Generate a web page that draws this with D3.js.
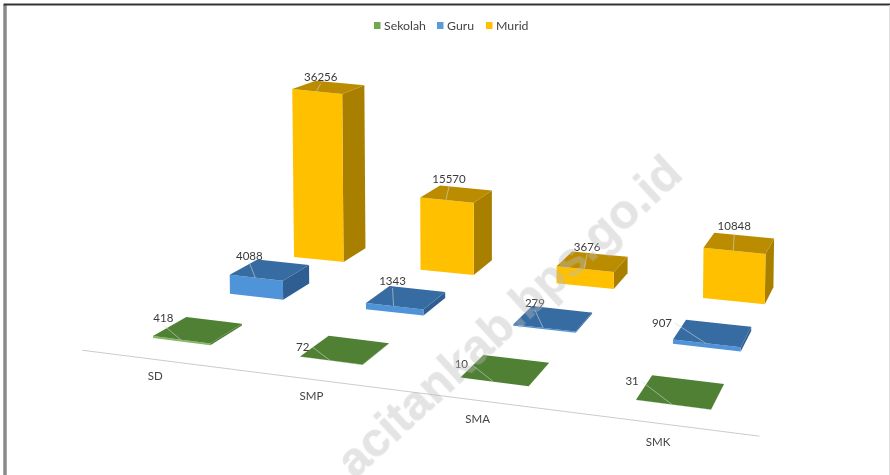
<!DOCTYPE html>
<html><head><meta charset="utf-8">
<script src="https://cdn.jsdelivr.net/npm/d3@7/dist/d3.min.js"></script>
<style>html,body{margin:0;padding:0;background:#fff}svg{display:block}</style>
</head><body><svg id="c" width="890" height="475"></svg>
<script>
const categories = ["SD","SMP","SMA","SMK"];
const series = ["Sekolah","Guru","Murid"];
const sekolah = [418,72,10,31];
const guru = [4088,1343,279,907];
const murid = [36256,15570,3676,10848];
const seriesValues = [sekolah,guru,murid];
const faceColors = [
  {front:"#86b765",top:"#4f8034",side:"#4a7a30",key:"#70a84f"},
  {front:"#4f93d8",top:"#376ca3",side:"#2f5f92",key:"#5b9bd5"},
  {front:"#ffc000",top:"#bc8c00",side:"#a97f00",key:"#ffc000"}];
// label nudges from each bar's back-left top corner (layout only)
const labelNudge = [
  [[-23,-1],[-26,9],[-22,7],[-20,4]],
  [[-8,-6],[3,-7],[3,-5],[-24,1]],
  [[5,-6],[9,-8],[15,-7],[20,-9]]];
const catNudge = [[3,0],[4,0],[1,2],[-4,1]];

const W=890,H=475;
const svg=d3.select("#c");
svg.append("rect").attr("width",W).attr("height",H).attr("fill","#fff");
const root=svg.append("g").style("filter","blur(0.6px)");

// Floor: projective map of the category/series plane
const uScale=d3.scalePoint().domain(categories).range([0,1]);
const vScale=d3.scalePoint().domain(series).range([0,1]);
const hScale=d3.scaleLinear().domain([0,36256]).range([0,168]);
const quad=[[153,338],[636,400],[703,298],[294,257]];
const [[x0,y0],[x1,y1],[x2,y2],[x3,y3]]=quad;
const dx1=x1-x2,dx2=x3-x2,sx=x0-x1+x2-x3,dy1=y1-y2,dy2=y3-y2,sy=y0-y1+y2-y3;
const den=dx1*dy2-dx2*dy1;
const g=(sx*dy2-dx2*sy)/den,h=(dx1*sy-sx*dy1)/den;
const a=x1-x0+g*x1,b=x3-x0+h*x3,c=x0,d=y1-y0+g*y1,e=y3-y0+h*y3,f=y0;
function project(u,v){const w=g*u+h*v+1;return [(a*u+b*v+c)/w,(d*u+e*v+f)/w];}
const barU=0.4/3,barV=0.41/2;
const axisVL=-0.35/2,axisVR=-0.28/2;
const axisVAt=u=>axisVL+(axisVR-axisVL)*(u+0.1)/(1.32);
function raise(p,ht){return [p[0]+ht*(p[0]-500)*5e-5,p[1]-ht];}
const line=pts=>"M"+pts.map(p=>p.join(",")).join("L")+"Z";

// Axis
const axisA=project(-0.28/3,axisVAt(-0.28/3)),axisB=project(3.69/3,axisVAt(3.69/3));
root.append("line").attr("x1",axisA[0]).attr("y1",axisA[1]).attr("x2",axisB[0]).attr("y2",axisB[1])
  .attr("stroke","#c9cbd3").attr("stroke-width",1);
const font="Lato, 'Open Sans', sans-serif";
const catPos=k=>{const u=uScale(k)+barU/2;return project(u,axisVAt(u));};
root.selectAll("text.cat").data(categories).join("text").attr("class","cat")
  .attr("x",(d,i)=>catPos(d)[0]+catNudge[i][0])
  .attr("y",(d,i)=>catPos(d)[1]+21+catNudge[i][1])
  .attr("text-anchor","middle").attr("font-family",font).attr("font-size",11.5).attr("fill","#444")
  .text(d=>d);

// Bars, back row first
const bars=[];
series.forEach((s,si)=>categories.forEach((k,ci)=>bars.push({s,si,k,ci,val:seriesValues[si][ci]})));
bars.sort((p,q)=>q.si-p.si||p.ci-q.ci);
const labels=[];
bars.forEach(B=>{
  const u=uScale(B.k),v=vScale(B.s),col=faceColors[B.si],ht=hScale(B.val);
  const fl=project(u,v),fr=project(u+barU,v),br=project(u+barU,v+barV),bl=project(u,v+barV);
  const tfl=raise(fl,ht),tfr=raise(fr,ht),tbr=raise(br,ht*0.97),tbl=raise(bl,ht*0.97);
  const gg=root.append("g");
  gg.append("path").attr("d",line([fr,br,tbr,tfr])).attr("fill",col.side);
  gg.append("path").attr("d",line([fl,fr,tfr,tfl])).attr("fill",col.front);
  gg.append("path").attr("d",line([tfl,tfr,tbr,tbl])).attr("fill",col.top);
  const n=labelNudge[B.si][B.ci];
  labels.push({lx:tbl[0]+n[0],ly:tbl[1]+n[1],val:B.val,tfl,tfr,side:n[1]>=0,w:String(B.val).length*3.2});
});
// Leader lines and value labels
root.selectAll("line.lead").data(labels).join("line").attr("class","lead")
  .attr("x1",d=>d.side?d.lx+d.w+3:d.lx).attr("y1",d=>d.side?d.ly+2:d.ly+9)
  .attr("x2",d=>(d.tfl[0]*0.52+d.tfr[0]*0.48)).attr("y2",d=>(d.tfl[1]*0.52+d.tfr[1]*0.48))
  .attr("stroke","#c9d6d6").attr("stroke-opacity",0.6).attr("stroke-width",1);
root.selectAll("text.val").data(labels).join("text").attr("class","val")
  .attr("x",d=>d.lx).attr("y",d=>d.ly+6)
  .attr("text-anchor","middle").attr("font-family",font).attr("font-size",11.5).attr("fill","#3a3a3a")
  .text(d=>d.val);

// Legend
const legendX=d3.scaleOrdinal().domain(series).range([374,437,486]);
const legend=root.selectAll("g.leg").data(series).join("g").attr("class","leg")
  .attr("transform",d=>`translate(${legendX(d)},22)`);
legend.append("rect").attr("width",6.5).attr("height",7).attr("fill",(d,i)=>faceColors[i].key);
legend.append("text").attr("x",10).attr("y",8).attr("font-family",font)
  .attr("font-size",12.3).attr("fill","#444").text(d=>d);

// Watermark
svg.append("text").attr("transform","translate(355,480) rotate(-42.6)")
  .style("filter","blur(0.5px)")
  .attr("font-family","'Liberation Sans',Arial,sans-serif").attr("font-weight","bold").attr("font-size",48)
  .attr("fill","#bbb").attr("stroke","#bbb").attr("stroke-width",0.5).attr("opacity",0.4).text("acitankab.bps.go.id");

// Frame
svg.append("path").attr("d","M5,475V5").attr("fill","none").attr("stroke","#8a8a8a").attr("stroke-width",3.5).style("filter","blur(0.5px)");
svg.append("path").attr("d","M3.5,4.5H890").attr("fill","none").attr("stroke","#333").attr("stroke-width",1.8).style("filter","blur(0.4px)");
svg.append("path").attr("d","M889.5,5V475").attr("fill","none").attr("stroke","#ddd").attr("stroke-width",1);
</script></body></html>
